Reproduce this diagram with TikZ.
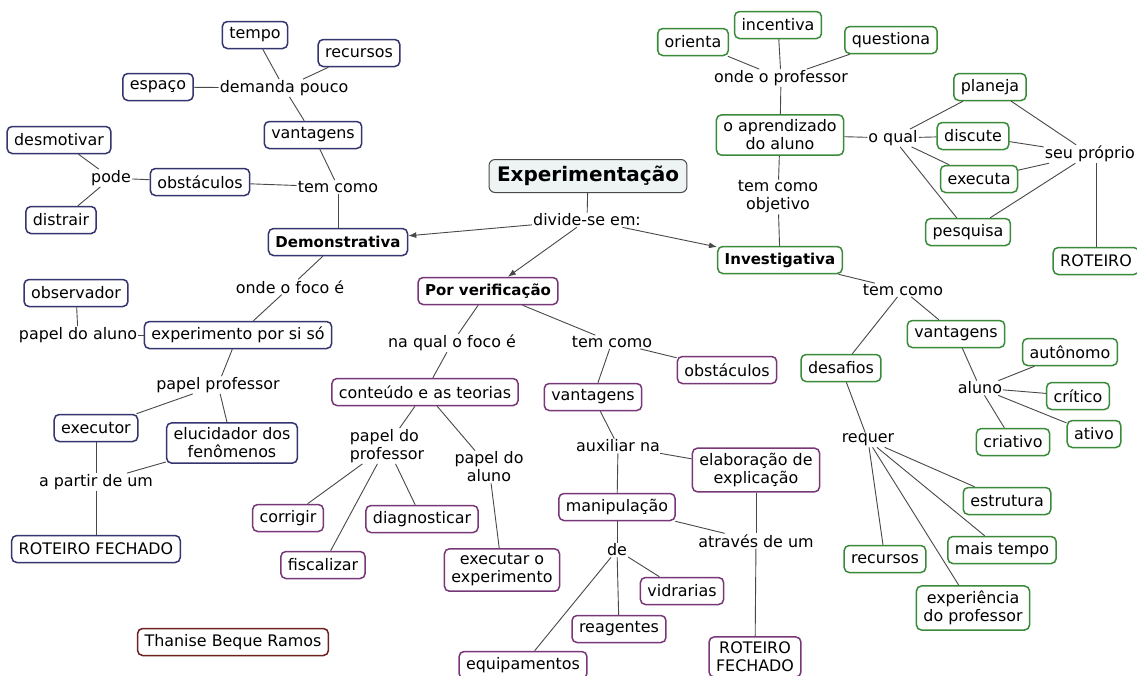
\documentclass[tikz,border=0pt]{standalone}
\usepackage{fontspec}
\setmainfont{DejaVu Sans}
\usepackage{tikz}
\usetikzlibrary{shapes,arrows.meta}
\definecolor{cm_blue}{RGB}{52, 52, 110}
\definecolor{cm_green}{RGB}{58, 138, 58}
\definecolor{cm_purple}{RGB}{120, 56, 120}
\definecolor{cm_red}{RGB}{110, 32, 32}
\definecolor{cm_title}{RGB}{238, 243, 243}
\definecolor{cm_line}{RGB}{72, 72, 72}
\tikzstyle{bn}=[rectangle,rounded corners=5pt,fill=white,draw=cm_blue,
  line width=1.5pt,inner xsep=7pt,inner ysep=5pt,minimum height=27pt,align=center]
\tikzstyle{gn}=[rectangle,rounded corners=5pt,fill=white,draw=cm_green,
  line width=1.5pt,inner xsep=7pt,inner ysep=5pt,minimum height=27pt,align=center]
\tikzstyle{pn}=[rectangle,rounded corners=5pt,fill=white,draw=cm_purple,
  line width=1.5pt,inner xsep=7pt,inner ysep=5pt,minimum height=27pt,align=center]
\tikzstyle{rn}=[rectangle,rounded corners=5pt,fill=white,draw=cm_red,
  line width=1.5pt,inner xsep=7pt,inner ysep=5pt,minimum height=27pt,align=center]
\tikzstyle{tn}=[rectangle,rounded corners=6pt,fill=cm_title,draw=cm_line,
  line width=1pt,inner xsep=8pt,inner ysep=5pt,minimum height=33pt,
  font=\fontsize{20}{24}\selectfont\bfseries]
\tikzstyle{lp}=[inner sep=1pt,align=center]
\tikzstyle{cn}=[draw=cm_line,line width=0.9pt]
\newcommand{\bt}[1]{{\fontsize{15}{18}\selectfont\bfseries #1}}

\begin{document}
\begin{tikzpicture}[x=1pt,y=-1pt,font=\fontsize{15.9}{18}\selectfont,
    >={Latex[length=8pt,width=6pt]}]
    \clip (0,0) rectangle (1137,675);
    \fill[white] (0,0) rectangle (1137,675);
    % centre
    \node [style=tn] (exp) at (588,176) {Experimentação};
    \node [style=lp] (divide) at (587,220) {divide-se em:};
    \node [style=bn] (demo) at (338,242) {\bt{Demonstrativa}};
    \node [style=gn] (inv) at (780,260) {\bt{Investigativa}};
    \node [style=pn] (verif) at (488,291) {\bt{Por verificação}};
    % demonstrativa
    \node [style=lp] (temc1) at (338,187) {tem como};
    \node [style=bn] (vantd) at (313,135) {vantagens};
    \node [style=lp] (demanda) at (284,88) {demanda pouco};
    \node [style=bn] (tempo) at (255,35) {tempo};
    \node [style=bn] (recd) at (359,53) {recursos};
    \node [style=bn] (espaco) at (158,87) {espaço};
    \node [style=bn] (obsd) at (200,182) {obstáculos};
    \node [style=lp] (pode) at (111,178) {pode};
    \node [style=bn] (desmot) at (59,140) {desmotivar};
    \node [style=bn] (distrair) at (61,220) {distrair};
    \node [style=lp] (focod) at (290,287) {onde o foco é};
    \node [style=bn] (expsi) at (238,335) {experimento por si só};
    \node [style=lp] (paluno) at (78,335) {papel do aluno};
    \node [style=bn] (observ) at (76,293) {observador};
    \node [style=lp] (pprof) at (218,385) {papel professor};
    \node [style=bn] (executor) at (96,428) {executor};
    \node [style=bn] (elucid) at (232,443) {elucidador dos\\fenômenos};
    \node [style=lp] (partir) at (96,482) {a partir de um};
    \node [style=bn] (rfd) at (96,549) {ROTEIRO FECHADO};
    % investigativa
    \node [style=lp] (objetivo) at (778,197) {tem como\\objetivo};
    \node [style=gn] (aprend) at (780,135) {o aprendizado\\do aluno};
    \node [style=lp] (ondeprof) at (781,78) {onde o professor};
    \node [style=gn] (orienta) at (693,42) {orienta};
    \node [style=gn] (incent) at (778,25) {incentiva};
    \node [style=gn] (quest) at (891,40) {questiona};
    \node [style=lp] (oqual) at (893,138) {o qual};
    \node [style=gn] (planeja) at (990,87) {planeja};
    \node [style=gn] (discute) at (973,136) {discute};
    \node [style=gn] (executa) at (979,179) {executa};
    \node [style=gn] (pesquisa) at (968,232) {pesquisa};
    \node [style=lp,anchor=east] (proprio) at (1136,154) {seu próprio};
    \node [style=gn] (roteiro) at (1096,261) {ROTEIRO};
    \node [style=lp] (temc3) at (903,290) {tem como};
    \node [style=gn] (vanti) at (956,334) {vantagens};
    \node [style=gn] (desafios) at (841,368) {desafios};
    \node [style=lp] (aluno) at (980,388) {aluno};
    \node [style=gn] (autonomo) at (1070,352) {autônomo};
    \node [style=gn] (critico) at (1078,396) {crítico};
    \node [style=gn] (ativo) at (1094,434) {ativo};
    \node [style=gn] (criativo) at (1013,442) {criativo};
    \node [style=lp] (requer) at (868,440) {requer};
    \node [style=gn] (estrutura) at (1007,501) {estrutura};
    \node [style=gn] (maistempo) at (1002,550) {mais tempo};
    \node [style=gn] (reci) at (885,559) {recursos};
    \node [style=gn] (experi) at (973,608) {experiência\\do professor};
    % por verificacao
    \node [style=lp] (focov) at (452,343) {na qual o foco é};
    \node [style=lp] (temc2) at (612,342) {tem como};
    \node [style=pn] (obsv) at (727,370) {obstáculos};
    \node [style=pn] (teorias) at (425,392) {conteúdo e as teorias};
    \node [style=pn] (vantv) at (593,397) {vantagens};
    \node [style=lp,align=left] (pdprof) at (387,446) {papel do\\professor};
    \node [style=lp] (pdaluno) at (489,467) {papel do\\aluno};
    \node [style=lp] (auxiliar) at (618,446) {auxiliar na};
    \node [style=pn] (elabor) at (756,470) {elaboração de\\explicação};
    \node [style=pn] (manip) at (617,507) {manipulação};
    \node [style=pn] (diagn) at (422,519) {diagnosticar};
    \node [style=pn] (corrigir) at (288,518) {corrigir};
    \node [style=pn] (fiscal) at (323,565) {fiscalizar};
    \node [style=pn] (execexp) at (502,570) {executar o\\experimento};
    \node [style=lp] (de) at (617,550) {de};
    \node [style=pn] (vidr) at (682,591) {vidrarias};
    \node [style=pn] (reag) at (619,629) {reagentes};
    \node [style=pn] (equip) at (523,665) {equipamentos};
    \node [style=lp] (atraves) at (756,541) {através de um};
    \node [style=pn] (rfv) at (755,657) {ROTEIRO\\FECHADO};
    \node [style=rn] (autor) at (233,642) {Thanise Beque Ramos};
    % connectors
    \draw [style=cn] (exp) to (divide);
    \draw [style=cn,->] (divide) to (demo);
    \draw [style=cn,->] (divide) to (inv);
    \draw [style=cn,->] (divide) to (verif);
    \draw [style=cn] (demo) to (temc1);
    \draw [style=cn] (temc1) to (vantd);
    \draw [style=cn] (temc1) to (obsd);
    \draw [style=cn] (vantd) to (demanda);
    \draw [style=cn] (demanda) to (tempo);
    \draw [style=cn] (demanda) to (recd);
    \draw [style=cn] (demanda) to (espaco);
    \draw [style=cn] (obsd) to (pode);
    \draw [style=cn] (pode) to (desmot);
    \draw [style=cn] (pode) to (distrair);
    \draw [style=cn] (demo) to (focod);
    \draw [style=cn] (focod) to (expsi);
    \draw [style=cn] (expsi) to (paluno);
    \draw [style=cn] (paluno) to (observ);
    \draw [style=cn] (expsi) to (pprof);
    \draw [style=cn] (pprof) to (executor);
    \draw [style=cn] (pprof) to (elucid);
    \draw [style=cn] (executor) to (partir);
    \draw [style=cn] (elucid) to (partir);
    \draw [style=cn] (partir) to (rfd);
    \draw [style=cn] (inv) to (objetivo);
    \draw [style=cn] (objetivo) to (aprend);
    \draw [style=cn] (aprend) to (ondeprof);
    \draw [style=cn] (ondeprof) to (orienta);
    \draw [style=cn] (ondeprof) to (incent);
    \draw [style=cn] (ondeprof) to (quest);
    \draw [style=cn] (aprend) to (oqual);
    \draw [style=cn] (oqual) to (planeja);
    \draw [style=cn] (oqual) to (discute);
    \draw [style=cn] (oqual) to (executa);
    \draw [style=cn] (oqual) to (pesquisa);
    \draw [style=cn] (planeja) to (proprio);
    \draw [style=cn] (discute) to (proprio);
    \draw [style=cn] (executa) to (proprio);
    \draw [style=cn] (pesquisa) to (proprio);
    \draw [style=cn] (proprio.south -| roteiro) to (roteiro);
    \draw [style=cn] (inv) to (temc3);
    \draw [style=cn] (temc3) to (vanti);
    \draw [style=cn] (temc3) to (desafios);
    \draw [style=cn] (vanti) to (aluno);
    \draw [style=cn] (aluno) to (autonomo);
    \draw [style=cn] (aluno) to (critico);
    \draw [style=cn] (aluno) to (ativo);
    \draw [style=cn] (aluno) to (criativo);
    \draw [style=cn] (desafios) to (requer);
    \draw [style=cn] (requer) to (estrutura);
    \draw [style=cn] (requer) to (maistempo);
    \draw [style=cn] (requer) to (reci);
    \draw [style=cn] (requer) to (experi);
    \draw [style=cn] (verif) to (focov);
    \draw [style=cn] (focov) to (teorias);
    \draw [style=cn] (verif) to (temc2);
    \draw [style=cn] (temc2) to (vantv);
    \draw [style=cn] (temc2) to (obsv);
    \draw [style=cn] (teorias) to (pdprof);
    \draw [style=cn] (teorias) to (pdaluno);
    \draw [style=cn] (pdprof) to (corrigir);
    \draw [style=cn] (pdprof) to (fiscal);
    \draw [style=cn] (pdprof) to (diagn);
    \draw [style=cn] (pdaluno) to (execexp);
    \draw [style=cn] (vantv) to (auxiliar);
    \draw [style=cn] (auxiliar) to (manip);
    \draw [style=cn] (auxiliar) to (elabor);
    \draw [style=cn] (manip) to (de);
    \draw [style=cn] (de) to (vidr);
    \draw [style=cn] (de) to (reag);
    \draw [style=cn] (de) to (equip);
    \draw [style=cn] (manip) to (atraves);
    \draw [style=cn] (elabor) to (atraves);
    \draw [style=cn] (atraves) to (rfv);
  \end{tikzpicture}
\end{document}
